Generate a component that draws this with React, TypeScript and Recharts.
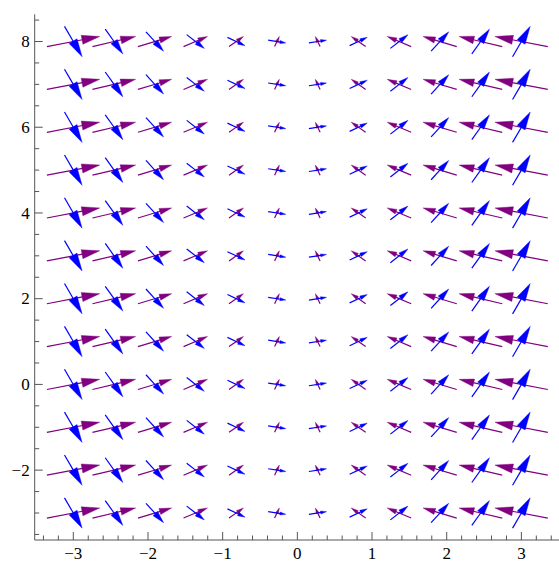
import React from 'react';
import { ComposedChart, XAxis, YAxis, ReferenceLine, Scatter } from 'recharts';

// sample positions of the vector grid
const columnX = [-3, -2.4545, -1.9091, -1.3636, -0.8182, -0.2727, 0.2727, 0.8182, 1.3636, 1.9091, 2.4545, 3];
const rowY = [-3, -2, -1, 0, 1, 2, 3, 4, 5, 6, 7, 8];

// blue field components for each column (same in every row)
const blueU = [1, 1, 1, 1, 1, 1, 1, 1, 1, 1, 1, 1];
const blueV = [-3, -2.45, -1.91, -1.36, -0.82, -0.27, 0.27, 0.82, 1.36, 1.91, 2.45, 3];

// purple field components for each column (same in every row)
const purpleU = [3, 2.45, 1.91, 1.36, 0.82, 0.27, -0.27, -0.82, -1.36, -1.91, -2.45, -3];
const purpleV = [1, 1, 1, 1, 1, 1, 1, 1, 1, 1, 1, 1];

// ticks
const xTicks = [-3.4, -3.2, -3, -2.8, -2.6, -2.4, -2.2, -2, -1.8, -1.6, -1.4, -1.2, -1, -0.8, -0.6, -0.4, -0.2, 0,
  0.2, 0.4, 0.6, 0.8, 1, 1.2, 1.4, 1.6, 1.8, 2, 2.2, 2.4, 2.6, 2.8, 3, 3.2, 3.4];
const xMajor = [-3, -2, -1, 0, 1, 2, 3];
const xTickLabels = ['\u22123', '\u22122', '\u22121', '0', '1', '2', '3'];
const yTicks = [-3.5, -3, -2.5, -2, -1.5, -1, -0.5, 0, 0.5, 1, 1.5, 2, 2.5, 3, 3.5, 4, 4.5, 5, 5.5, 6, 6.5, 7, 7.5, 8, 8.5];
const yMajor = [-2, 0, 2, 4, 6, 8];
const yTickLabels = ['\u22122', '0', '2', '4', '6', '8'];

const X_DOMAIN: [number, number] = [-3.517, 3.517];
const Y_DOMAIN: [number, number] = [-3.63, 8.635];

const VEC_SCALE = 0.236;
const HEAD_LEN = 5.7;
const HEAD_HALF = 1.45;
const BLUE = '#0000ff';
const PURPLE = '#800080';
const FRAME = '#555555';
const FONT = '"Liberation Serif", serif';
const FONT_SIZE = 17;
const MAJOR_LEN = 8;
const MINOR_LEN = 4.5;

function arrowShape(color: string, mag: number) {
  return (p: any) => {
    const { x1, y1, x2, y2 } = p;
    const dx = x2 - x1;
    const dy = y2 - y1;
    const L = Math.hypot(dx, dy) || 1;
    const ux = dx / L;
    const uy = dy / L;
    const hl = Math.min(HEAD_LEN * mag, L * 0.6);
    const hw = HEAD_HALF * mag;
    const bx = x2 - ux * hl;
    const by = y2 - uy * hl;
    const px = -uy;
    const py = ux;
    return (
      <g>
        <line x1={x1} y1={y1} x2={bx + ux * 0.5} y2={by + uy * 0.5} stroke={color} strokeWidth={1.2} />
        <polygon
          points={`${x2},${y2} ${bx + px * hw},${by + py * hw} ${bx - px * hw},${by - py * hw}`}
          fill={color}
          stroke={color}
          strokeWidth={0.4}
          strokeLinejoin="round"
        />
      </g>
    );
  };
}

const textStyle = { fontFamily: FONT, fontSize: FONT_SIZE };

const BottomTick = (p: any) => {
  const { x, y, payload } = p;
  const i = xMajor.indexOf(payload.value);
  const major = i >= 0;
  return (
    <g>
      <line x1={x} x2={x} y1={y} y2={y - (major ? MAJOR_LEN : MINOR_LEN)} stroke={FRAME} strokeWidth={1} />
      {major && (
        <text x={x} y={y + 19} textAnchor="middle" style={textStyle} fill="#000">
          {xTickLabels[i]}
        </text>
      )}
    </g>
  );
};

const TopTick = (p: any) => {
  const { x, y, payload } = p;
  const major = xMajor.indexOf(payload.value) >= 0;
  return <line x1={x} x2={x} y1={y} y2={y + (major ? MAJOR_LEN : MINOR_LEN)} stroke={FRAME} strokeWidth={1} />;
};

const LeftTick = (p: any) => {
  const { x, y, payload } = p;
  const i = yMajor.indexOf(payload.value);
  const major = i >= 0;
  return (
    <g>
      <line x1={x} x2={x + (major ? MAJOR_LEN : MINOR_LEN)} y1={y} y2={y} stroke={FRAME} strokeWidth={1} />
      {major && (
        <text x={x - 5} y={y} dy="0.34em" textAnchor="end" style={textStyle} fill="#000">
          {yTickLabels[i]}
        </text>
      )}
    </g>
  );
};

const RightTick = (p: any) => {
  const { x, y, payload } = p;
  const major = yMajor.indexOf(payload.value) >= 0;
  return <line x1={x} x2={x - (major ? MAJOR_LEN : MINOR_LEN)} y1={y} y2={y} stroke={FRAME} strokeWidth={1} />;
};

const gridPoints = rowY.flatMap((y) => columnX.map((x) => ({ x, y })));

export default function App() {
  const arrows: React.ReactNode[] = [];
  const fields = [
    { name: 'purple', color: PURPLE, U: purpleU, V: purpleV },
    { name: 'blue', color: BLUE, U: blueU, V: blueV },
  ];
  fields.forEach((f) => {
    rowY.forEach((y, r) => {
      columnX.forEach((x, c) => {
        const u = f.U[c];
        const v = f.V[c];
        const mag = Math.hypot(u, v);
        arrows.push(
          <ReferenceLine
            key={`${f.name}-${r}-${c}`}
            xAxisId="b"
            yAxisId="l"
            ifOverflow="visible"
            segment={[
              { x: x - (u * VEC_SCALE) / 2, y: y - (v * VEC_SCALE) / 2 },
              { x: x + (u * VEC_SCALE) / 2, y: y + (v * VEC_SCALE) / 2 },
            ]}
            shape={arrowShape(f.color, mag)}
          />
        );
      });
    });
  });

  return (
    <div style={{ position: 'absolute', left: 0, top: 0, width: 559, height: 561, overflow: 'hidden', background: '#fff' }}>
      <ComposedChart width={560} height={561} margin={{ top: 14.3, right: 0, bottom: 0, left: 0 }} data={gridPoints}>
        <XAxis
          xAxisId="b"
          dataKey="x"
          type="number"
          orientation="bottom"
          domain={X_DOMAIN}
          allowDataOverflow
          ticks={xTicks}
          interval={0}
          height={21}
          tickSize={0}
          tickMargin={0}
          tickLine={false}
          axisLine={{ stroke: FRAME, strokeWidth: 1 }}
          tick={(p: any) => <BottomTick {...p} />}
        />
        <XAxis
          xAxisId="t"
          dataKey="x"
          type="number"
          orientation="top"
          domain={X_DOMAIN}
          allowDataOverflow
          ticks={xTicks}
          interval={0}
          height={0}
          tickSize={0}
          tickMargin={0}
          tickLine={false}
          axisLine={{ stroke: FRAME, strokeWidth: 1 }}
          tick={(p: any) => <TopTick {...p} />}
        />
        <YAxis
          yAxisId="l"
          dataKey="y"
          type="number"
          orientation="left"
          domain={Y_DOMAIN}
          allowDataOverflow
          ticks={yTicks}
          interval={0}
          width={34.7}
          tickSize={0}
          tickMargin={0}
          tickLine={false}
          axisLine={{ stroke: FRAME, strokeWidth: 1 }}
          tick={(p: any) => <LeftTick {...p} />}
        />
        <YAxis
          yAxisId="r"
          dataKey="y"
          type="number"
          orientation="right"
          domain={Y_DOMAIN}
          allowDataOverflow
          ticks={yTicks}
          interval={0}
          width={0}
          tickSize={0}
          tickMargin={0}
          tickLine={false}
          axisLine={{ stroke: FRAME, strokeWidth: 1 }}
          tick={(p: any) => <RightTick {...p} />}
        />
        <Scatter xAxisId="b" yAxisId="l" dataKey="y" isAnimationActive={false} shape={() => <g />} />
        {arrows}
      </ComposedChart>
    </div>
  );
}
